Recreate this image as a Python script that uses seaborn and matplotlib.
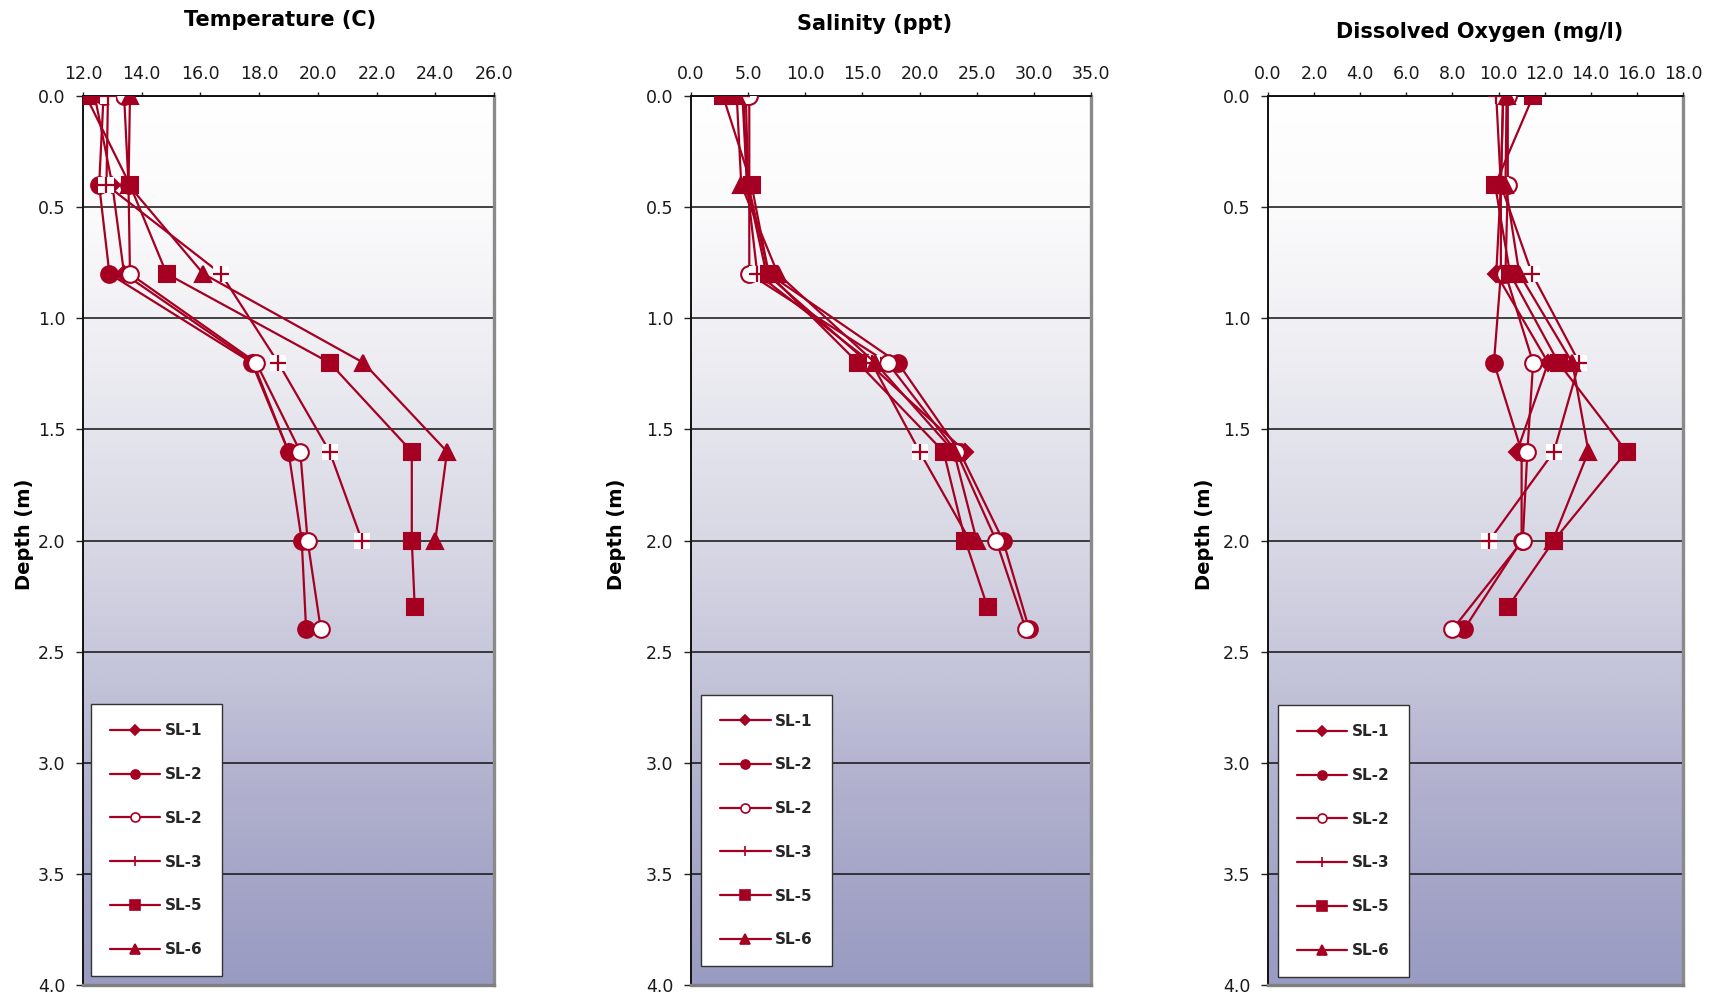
import numpy as np
import pandas as pd
import matplotlib
matplotlib.use("Agg")
import matplotlib.pyplot as plt
import seaborn as sns
from matplotlib.lines import Line2D
from matplotlib.colors import LinearSegmentedColormap
from matplotlib.ticker import MultipleLocator, FormatStrFormatter

# ---- station depths (m) ----
depth_sl1 = [0.0, 0.4, 0.8, 1.2, 1.6]
depth_sl2 = [0.0, 0.4, 0.8, 1.2, 1.6, 2.0, 2.4]
depth_sl2b = [0.0, 0.4, 0.8, 1.2, 1.6, 2.0, 2.4]
depth_sl3 = [0.0, 0.4, 0.8, 1.2, 1.6, 2.0]
depth_sl5 = [0.0, 0.4, 0.8, 1.2, 1.6, 2.0, 2.3]
depth_sl6 = [0.0, 0.4, 0.8, 1.2, 1.6, 2.0]

station_labels = ["SL-1", "SL-2", "SL-2", "SL-3", "SL-5", "SL-6"]

# ---- temperature (C) ----
temp_sl1 = [12.4, 13.0, 13.4, 17.8, 19.0]
temp_sl2 = [12.7, 12.55, 12.9, 17.75, 19.0, 19.45, 19.6]
temp_sl2b = [13.4, 13.55, 13.6, 17.9, 19.4, 19.65, 20.1]
temp_sl3 = [12.85, 12.8, 16.7, 18.65, 20.4, 21.5]
temp_sl5 = [12.1, 13.6, 14.85, 20.4, 23.2, 23.2, 23.3]
temp_sl6 = [13.6, 13.55, 16.1, 21.55, 24.4, 24.0]

# ---- salinity (ppt) ----
sal_sl1 = [4.6, 4.9, 6.6, 15.5, 24.0]
sal_sl2 = [4.8, 5.0, 6.8, 18.1, 23.5, 27.3, 29.6]
sal_sl2b = [5.1, 5.1, 5.1, 17.2, 23.2, 26.7, 29.3]
sal_sl3 = [4.5, 4.9, 5.8, 15.8, 20.0, 24.4]
sal_sl5 = [2.8, 5.3, 6.8, 14.6, 22.1, 24.0, 25.95]
sal_sl6 = [4.0, 4.4, 7.6, 16.1, 23.0, 25.0]

# ---- dissolved oxygen (mg/l) ----
do_sl1 = [10.2, 10.1, 9.9, 12.15, 10.8]
do_sl2 = [10.2, 10.1, 10.1, 9.8, 11.0, 11.0, 8.5]
do_sl2b = [10.4, 10.4, 10.3, 11.5, 11.25, 11.05, 8.0]
do_sl3 = [9.9, 10.1, 11.45, 13.5, 12.4, 9.6]
do_sl5 = [11.5, 9.85, 10.5, 12.6, 15.55, 12.4, 10.4]
do_sl6 = [10.35, 10.3, 10.9, 13.2, 13.9, 12.35]

RED = "#A50021"

sns.set_theme(style="white")
plt.rcParams["font.family"] = ["DejaVu Sans"]

# marker style per station: (marker, size, face)
styles = [
    ("D", 8.5, RED),
    ("o", 12, RED),
    ("o", 12, "white"),
    ("+", 12, None),
    ("s", 11.5, RED),
    ("^", 12, RED),
]
legend_ms = [5, 6.5, 6.5, 7, 6.5, 6.5]

depths = [depth_sl1, depth_sl2, depth_sl2b, depth_sl3, depth_sl5, depth_sl6]

panels = [
    dict(title="Temperature (C)", values=[temp_sl1, temp_sl2, temp_sl2b, temp_sl3, temp_sl5, temp_sl6],
         xlim=(12, 26), step=2, rect=[83, 96, 411, 889], title_xy=(280, 20), ylabel_x=24,
         leg=(0.019, 0.010)),
    dict(title="Salinity (ppt)", values=[sal_sl1, sal_sl2, sal_sl2b, sal_sl3, sal_sl5, sal_sl6],
         xlim=(0, 35), step=5, rect=[691, 96, 400, 889], title_xy=(875, 24), ylabel_x=616,
         leg=(0.025, 0.021)),
    dict(title="Dissolved Oxygen (mg/l)", values=[do_sl1, do_sl2, do_sl2b, do_sl3, do_sl5, do_sl6],
         xlim=(0, 18), step=2, rect=[1268, 96, 415, 889], title_xy=(1480, 32), ylabel_x=1205,
         leg=(0.024, 0.009)),
]

W, H = 1725, 997
fig = plt.figure(figsize=(W / 100, H / 100), dpi=100)
fig.patch.set_facecolor("white")

bg_cmap = LinearSegmentedColormap.from_list(
    "bg",
    [(0.0, "#ffffff"), (0.125, "#fbfbfc"), (0.25, "#f1f1f5"), (0.5, "#d8d8e5"),
     (0.625, "#c8c8dc"), (0.75, "#b5b5d1"), (0.875, "#a6a6c8"), (1.0, "#9a9bc2")],
)

for p in panels:
    x0, y0, w, h = p["rect"]
    ax = fig.add_axes([x0 / W, 1 - (y0 + h) / H, w / W, h / H])

    # vertical shading of the plot area (white at the surface, lavender at depth)
    grad = np.linspace(0, 1, 256).reshape(-1, 1)
    ax.imshow(grad, extent=(0, 1, 0, 1), origin="upper", transform=ax.transAxes,
              cmap=bg_cmap, aspect="auto", zorder=0, interpolation="bicubic")

    for i, (vals, dep) in enumerate(zip(p["values"], depths)):
        marker, ms, face = styles[i]
        z = 3 + i * 0.5
        if marker == "+":
            sns.lineplot(x=vals, y=dep, orient="y", sort=False, estimator=None,
                         color=RED, lw=1.6, ax=ax, zorder=z, legend=False)
            sns.scatterplot(x=vals, y=dep, marker="s", s=ms ** 2, color="white",
                            linewidth=0, ax=ax, zorder=z + 0.1, legend=False)
            sns.scatterplot(x=vals, y=dep, marker="+", s=ms ** 2, color=RED,
                            linewidth=1.6, ax=ax, zorder=z + 0.2, legend=False)
        else:
            sns.lineplot(x=vals, y=dep, orient="y", sort=False, estimator=None,
                         color=RED, lw=1.6, marker=marker, markersize=ms,
                         mfc=face, mec=RED, mew=1.5, ax=ax, zorder=z, legend=False)

    ax.set_xlim(*p["xlim"])
    ax.set_ylim(4.0, 0.0)
    ax.xaxis.tick_top()
    ax.xaxis.set_major_locator(MultipleLocator(p["step"]))
    ax.xaxis.set_major_formatter(FormatStrFormatter("%.1f"))
    ax.yaxis.set_major_locator(MultipleLocator(0.5))
    ax.yaxis.set_major_formatter(FormatStrFormatter("%.1f"))
    ax.tick_params(axis="x", which="both", top=True, bottom=False, direction="out",
                   length=3, width=1, color="#222222", pad=6.5, labelsize=12.5, labelcolor="#1a1a1a")
    ax.tick_params(axis="y", which="both", left=True, right=False, direction="out",
                   length=4.8, width=1, color="#222222", pad=8, labelsize=12.5, labelcolor="#1a1a1a")
    ax.yaxis.grid(True, color="#111111", lw=1.1, zorder=1)
    ax.xaxis.grid(False)
    ax.set_axisbelow(True)
    ax.set_xlabel("")
    ax.set_ylabel("")

    ax.spines["top"].set_color("#111111")
    ax.spines["top"].set_linewidth(1.4)
    ax.spines["left"].set_color("#111111")
    ax.spines["left"].set_linewidth(1.4)
    ax.spines["bottom"].set_color("#7f7f7f")
    ax.spines["bottom"].set_linewidth(2.4)
    ax.spines["right"].set_color("#8a8a8a")
    ax.spines["right"].set_linewidth(2.4)

    # legend
    handles = []
    for i, (marker, ms, face) in enumerate(styles):
        if marker == "+":
            handles.append(Line2D([0], [0], color=RED, lw=1.6, marker="+",
                                  markersize=legend_ms[i], mew=1.2, mec=RED))
        else:
            handles.append(Line2D([0], [0], color=RED, lw=1.6, marker=marker,
                                  markersize=legend_ms[i], mfc=face, mec=RED, mew=1.2))
    leg = ax.legend(handles, station_labels, loc="lower left", bbox_to_anchor=p["leg"],
                    borderaxespad=0, frameon=True, fancybox=False, framealpha=1,
                    edgecolor="#333333", handlelength=3.3, handletextpad=0.3,
                    labelspacing=1.88, borderpad=1.25,
                    prop={"weight": "bold", "size": 11})
    leg.get_frame().set_linewidth(1.0)
    leg.set_zorder(20)

    fig.text(p["title_xy"][0] / W, 1 - p["title_xy"][1] / H, p["title"],
             ha="center", va="center", fontsize=15, fontweight="bold", color="black")
    fig.text(p["ylabel_x"] / W, 1 - 534 / H, "Depth (m)", rotation=90,
             ha="center", va="center", fontsize=14, fontweight="bold", color="black")

fig.savefig("out.png", dpi=100)
